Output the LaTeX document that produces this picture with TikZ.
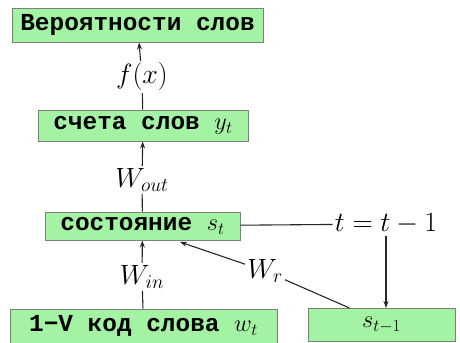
\RequirePackage{fix-cm}
\documentclass[tikz,border=0pt]{standalone}
\usepackage{fontspec}
\setmonofont{Liberation Mono}
\usetikzlibrary{shapes,arrows.meta}

\definecolor{boxgreen}{RGB}{164,242,164}
\definecolor{boxline}{RGB}{120,130,120}

\begin{document}
\begin{tikzpicture}[x=1bp,y=-1bp,
  box/.style={shape=rectangle,draw=boxline,fill=boxgreen,line width=1pt,inner sep=0pt,font=\fontsize{24.5}{28}\ttfamily\bfseries},
  lbl/.style={fill=white,inner sep=2pt,font=\fontsize{28}{32}\selectfont},
  link/.style={-,draw=black!85,line width=1.1pt},
  >={Stealth[length=7pt,width=5pt]}]
\useasboundingbox (0,0) rectangle (460,342);
\node[box,minimum width=251bp,minimum height=34bp] (0) at (137.5,25) {Вероятности слов};
\node[box,minimum width=210bp,minimum height=31bp] (1) at (143,125.5) {счета слов $y_t$};
\node[box,minimum width=195bp,minimum height=28bp] (2) at (142.5,226) {состояние $s_t$};
\node[box,minimum width=267bp,minimum height=34bp] (3) at (143.5,326) {1−V код слова $w_t$};
\node[box,minimum width=147bp,minimum height=33bp] (4) at (381.5,325) {$s_{t-1}$};

\node[lbl] (5) at (142,77) {$f(x)$};
\node[lbl] (6) at (142,180) {$W_{out}$};
\node[lbl] (7) at (142,277) {$W_{in}$};
\node[lbl] (8) at (265,271) {$W_r$};
\node[lbl] (9) at (386,224) {$t=t-1$};

\path [link] (1) edge node {} (5);
\path [link,->] (5) edge node {} (0);
\path [link] (2) edge node {} (6);
\path [link,->] (6) edge node {} (1);
\path [link] (3) edge node {} (7);
\path [link,->] (7) edge node {} (2);
\path [link] (2) edge node {} (9);
\draw [link,->] (9.south) -- (9.south |- 4.north);
\path [link] (4.north west) ++(42,0) edge node {} (8);
\path [link,->] (8) edge node {} (180,242);
\end{tikzpicture}
\end{document}
